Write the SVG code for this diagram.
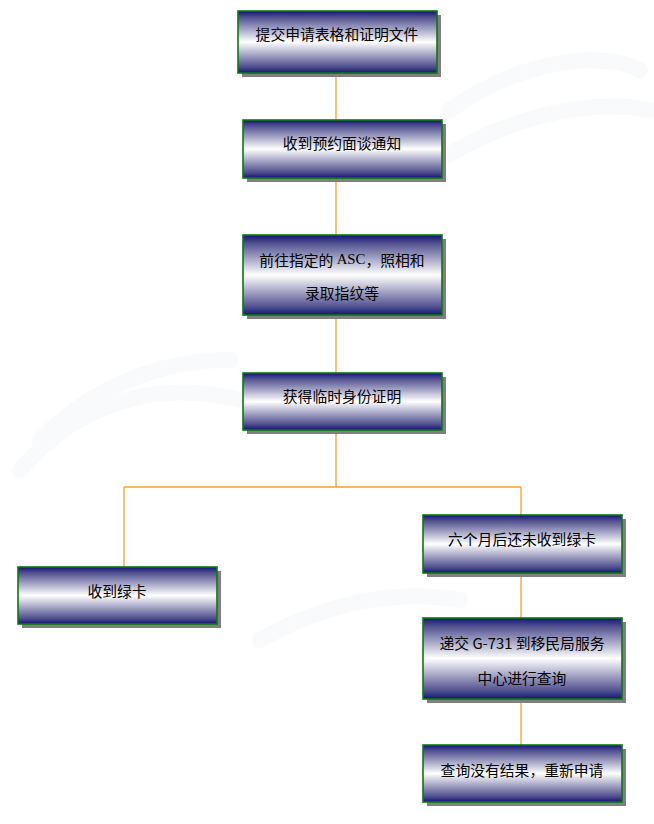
<svg xmlns="http://www.w3.org/2000/svg" width="654" height="824" viewBox="0 0 654 824">
<defs>
<linearGradient id="g" x1="0" y1="0" x2="0" y2="1">
<stop offset="0" stop-color="#141478"/>
<stop offset="0.1" stop-color="#50508f"/>
<stop offset="0.5" stop-color="#ffffff"/>
<stop offset="0.9" stop-color="#50508f"/>
<stop offset="1" stop-color="#141478"/>
</linearGradient>
<style>
.box{fill:url(#g);stroke:#0a7a0a;stroke-width:1.6}
.sh{fill:#7f7f7f}
.t{font-family:"Noto Sans CJK SC","Liberation Sans",sans-serif;font-size:14.8px;fill:#000;text-anchor:middle;dominant-baseline:central}
.s{font-family:"Liberation Serif",serif}
.c{stroke:#f4a028;stroke-width:1.3;fill:none}
.wm{fill:none;stroke:#f8fafb;stroke-width:16;stroke-linecap:round}
</style>
</defs>
<rect width="654" height="824" fill="#fff"/>
<g id="watermark">
<path class="wm" d="M450 110 C520 60 600 50 640 70"/>
<path class="wm" d="M440 160 C520 110 600 100 650 110"/>
<path class="wm" d="M20 470 C80 400 160 380 240 400"/>
<path class="wm" d="M40 440 C100 380 170 360 230 360"/>
<path class="wm" d="M260 640 C330 600 400 590 460 600"/>
</g>
<g id="connectors">
<path class="c" d="M336 73V120"/>
<path class="c" d="M336 178V235"/>
<path class="c" d="M336 315V373"/>
<path class="c" d="M336 430V487"/>
<path class="c" d="M124 487H521"/>
<path class="c" d="M124 487V567"/>
<path class="c" d="M521 487V515"/>
<path class="c" d="M521 573V618"/>
<path class="c" d="M521 699V745"/>
</g>
<g id="n1">
<rect class="sh" x="242" y="15" width="199" height="62"/>
<rect class="box" x="238" y="11" width="199" height="62"/>
<text class="t" x="337" y="33">提交申请表格和证明文件</text>
</g>
<g id="n2">
<rect class="sh" x="247" y="124" width="199" height="58"/>
<rect class="box" x="243" y="120" width="199" height="58"/>
<text class="t" x="342" y="142">收到预约面谈通知</text>
</g>
<g id="n3">
<rect class="sh" x="247" y="239" width="199" height="80"/>
<rect class="box" x="243" y="235" width="199" height="80"/>
<text class="t" x="342" y="259">前往指定的 <tspan class="s">ASC</tspan>，照相和</text>
<text class="t" x="342" y="292">录取指纹等</text>
</g>
<g id="n4">
<rect class="sh" x="247" y="377" width="199" height="57"/>
<rect class="box" x="243" y="373" width="199" height="57"/>
<text class="t" x="342" y="395">获得临时身份证明</text>
</g>
<g id="n5">
<rect class="sh" x="22" y="571" width="199" height="57"/>
<rect class="box" x="18" y="567" width="199" height="57"/>
<text class="t" x="117" y="590">收到绿卡</text>
</g>
<g id="n6">
<rect class="sh" x="427" y="519" width="199" height="58"/>
<rect class="box" x="423" y="515" width="199" height="58"/>
<text class="t" x="522" y="538">六个月后还未收到绿卡</text>
</g>
<g id="n7">
<rect class="sh" x="427" y="622" width="199" height="81"/>
<rect class="box" x="423" y="618" width="199" height="81"/>
<text class="t" x="522" y="642">递交 G-731 到移民局服务</text>
<text class="t" x="522" y="677">中心进行查询</text>
</g>
<g id="n8">
<rect class="sh" x="427" y="749" width="199" height="57"/>
<rect class="box" x="423" y="745" width="199" height="57"/>
<text class="t" x="522" y="769">查询没有结果，重新申请</text>
</g>
</svg>
